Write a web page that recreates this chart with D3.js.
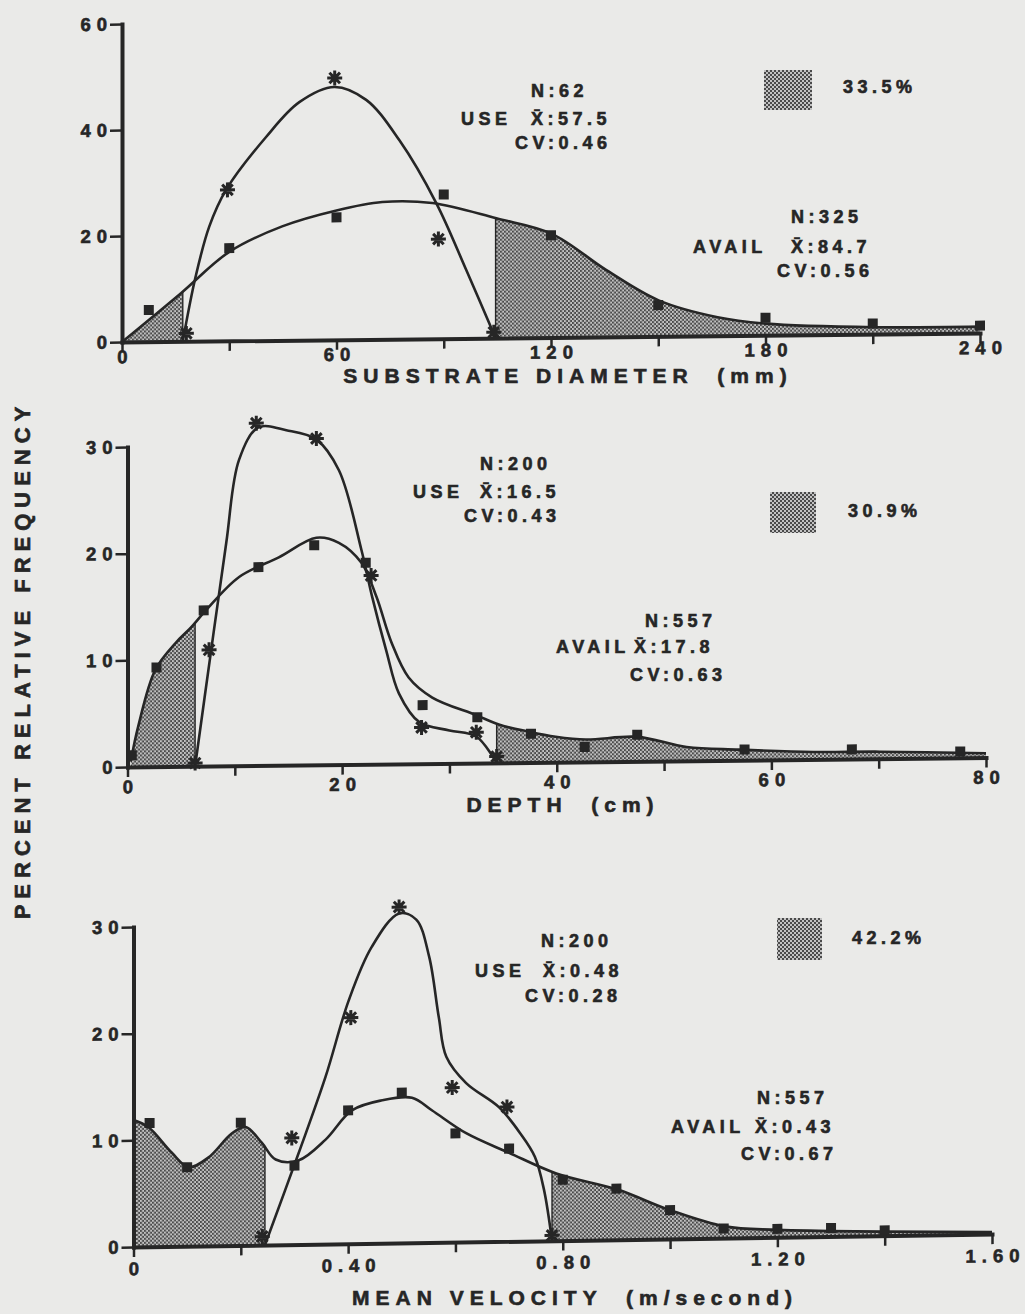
<!DOCTYPE html>
<html><head><meta charset="utf-8">
<script src="https://cdn.jsdelivr.net/npm/d3@7"></script>
<style>
html,body{margin:0;padding:0;background:#eaeae8;}
svg{display:block;}
text{font-family:"Liberation Sans",Arial,Helvetica,sans-serif;font-weight:bold;fill:#262626;stroke:#262626;stroke-width:0.6px;}
</style></head><body>
<svg id="c" width="1025" height="1314"></svg>
<script>
// ---------- Panel 1: SUBSTRATE DIAMETER (mm) ----------
const subXTicks = [0,30,60,90,120,150,180,210,240];
const subXLabels = [0,60,120,180,240];
const subYTicks = [0,20,40,60];
const subAvailPtsX = [7.5,30,60,90,120,150,180,210,240];
const subAvailPtsY = [6.0,17.5,23.1,27.2,19.3,5.9,3.3,2.0,1.4];
const subUsePtsX = [18,29.5,59.5,88.5,104];
const subUsePtsY = [1.5,28.5,49.4,18.8,1.1];
const subAvailCurveX = [0,16.5,30,44.8,60,72.8,86.8,104.7,120.1,135.5,150.1,166.6,180,210.6,240];
const subAvailCurveY = [0,9.1,16.8,21.5,24.4,25.9,25.6,22.6,19.6,12.6,6.8,3.5,2.2,1.3,1.2];
const subUseCurveX = [17,20.6,24.4,29.1,40.3,49.6,59.4,68.3,77.6,87.9,96.3,104.5];
const subUseCurveY = [0,12.2,21.6,28.5,38.4,44.9,47.7,45.2,37.5,25.6,12.9,0];
const subUseStats = ["N:62","X\u0304:57.5","CV:0.46"];
const subAvailStats = ["N:325","X\u0304:84.7","CV:0.56"];
const subPct = "33.5%";
const subTitle = "SUBSTRATE DIAMETER  (mm)";

// ---------- Panel 2: DEPTH (cm) ----------
const depXTicks = [0,10,20,30,40,50,60,70,80];
const depXLabels = [0,20,40,60,80];
const depYTicks = [0,10,20,30];
const depAvailPtsX = [0.4,2.7,7.1,12.2,17.4,22.2,27.5,32.6,37.6,42.6,47.5,57.5,67.5,77.6];
const depAvailPtsY = [1.1,9.3,14.6,18.6,20.6,18.9,5.5,4.3,2.7,1.4,2.5,1.0,0.9,0.6];
const depUsePtsX = [6.3,7.6,12.0,17.6,22.7,27.4,32.5,34.4];
const depUsePtsY = [0.3,10.9,32.1,30.6,17.7,3.4,2.9,0.6];
const depAvailCurveX = [0.3,1.0,2.6,4.5,5.9,7.3,10.4,14.1,17.6,19.7,21.8,23.2,24.6,26.2,28.4,32.5,34.6,37.4,39.9,42.7,47.5,52.1,57.0,63.9,70.1,80];
const depAvailCurveY = [0.5,3.8,9.1,11.6,13.0,14.6,17.7,19.5,21.3,20.8,18.9,15.7,11.4,8.1,6.2,4.5,3.6,2.9,2.4,2.1,2.3,1.3,1.0,0.7,0.66,0.4];
const depUseCurveX = [6.3,7.8,9.2,10.4,12.2,14.8,17.6,19.7,21.8,22.8,24.1,25.3,27.2,30.0,32.5,34.4];
const depUseCurveY = [0,10.9,20.9,28.7,31.7,31.4,30.5,27.6,20.1,15.7,10.7,6.6,3.9,3.1,2.5,0];
const depUseStats = ["N:200","X\u0304:16.5","CV:0.43"];
const depAvailStats = ["N:557","X\u0304:17.8","CV:0.63"];
const depPct = "30.9%";
const depTitle = "DEPTH  (cm)";

// ---------- Panel 3: MEAN VELOCITY (m/second) ----------
const velXTicks = [0,0.2,0.4,0.6,0.8,1.0,1.2,1.4,1.6];
const velXLabels = [0,0.4,0.8,1.2,1.6];
const velYTicks = [0,10,20,30];
const velAvailPtsX = [0.03,0.1,0.2,0.3,0.4,0.5,0.6,0.7,0.8,0.9,1.0,1.1,1.2,1.3,1.4];
const velAvailPtsY = [11.6,7.4,11.5,7.4,12.5,14.1,10.2,8.7,5.7,4.8,2.7,0.9,0.8,0.8,0.5];
const velUsePtsX = [0.24,0.295,0.405,0.495,0.594,0.696,0.78];
const velUsePtsY = [0.8,10.0,21.2,31.5,14.5,12.6,0.5];
const velAvailCurveX = [0,0.028,0.071,0.103,0.14,0.183,0.209,0.239,0.265,0.308,0.358,0.407,0.463,0.519,0.556,0.62,0.7,0.788,0.902,1.0,1.102,1.2,1.6];
const velAvailCurveY = [11.9,11.2,8.8,7.4,8.3,10.5,11.1,9.6,8.0,7.9,9.8,12.5,13.4,13.6,12.4,10.2,8.3,6.3,4.7,2.7,1.1,0.7,0.2];
const velUseCurveX = [0.245,0.308,0.358,0.401,0.444,0.495,0.527,0.551,0.569,0.583,0.62,0.681,0.721,0.748,0.765,0.78];
const velUseCurveY = [0,8.6,15.7,22.8,27.8,30.9,30.3,26.8,21.1,17.4,14.9,12.6,10.1,7.9,4.8,0];
const velUseStats = ["N:200","X\u0304:0.48","CV:0.28"];
const velAvailStats = ["N:557","X\u0304:0.43","CV:0.67"];
const velPct = "42.2%";
const velTitle = "MEAN VELOCITY  (m/second)";

const yTitle = "PERCENT RELATIVE FREQUENCY";

// ---------- drawing ----------
const INK = "#262626";
const svg = d3.select("#c");
svg.append("rect").attr("width",1025).attr("height",1314).attr("fill","#eaeae8");
const defs = svg.append("defs");
const pat = defs.append("pattern").attr("id","stip").attr("patternUnits","userSpaceOnUse").attr("width",4).attr("height",4);
pat.append("rect").attr("width",4).attr("height",4).attr("fill","#c2c2c2");
pat.append("rect").attr("width",2).attr("height",2).attr("fill","#4a4a4a");
pat.append("rect").attr("x",2).attr("y",2).attr("width",2).attr("height",2).attr("fill","#4a4a4a");

const zip = (xs, ys) => xs.map((v,i)=>[v, ys[i]]);

function yAtX(node, px){
  const L = node.getTotalLength();
  let lo = 0, hi = L;
  for(let i=0;i<40;i++){ const m=(lo+hi)/2; if(node.getPointAtLength(m).x < px) lo=m; else hi=m; }
  return node.getPointAtLength((lo+hi)/2).y;
}

function txt(s, x, y, size, ls, anchor){
  return svg.append("text").attr("x",x).attr("y",y).attr("font-size",size)
    .attr("letter-spacing",ls).attr("text-anchor",anchor||"start").style("white-space","pre").text(s);
}

function panel(o){
  const g = svg.append("g").attr("transform",`matrix(1,${-o.k},0,1,0,0)`);
  const x = d3.scaleLinear().domain([o.xTicks[0], o.xTicks[o.xTicks.length-1]]).range(o.xRange);
  const y = d3.scaleLinear().domain([0, o.yTicks[o.yTicks.length-1]]).range(o.yRange);
  const avail = zip(o.availCX, o.availCY);
  const use = zip(o.useCX, o.useCY);
  const cv = d3.curveCatmullRom.alpha(0.5);
  const line = d3.line().x(d=>x(d[0])).y(d=>y(d[1])).curve(cv);
  const area = d3.area().x(d=>x(d[0])).y0(y(0)).y1(d=>y(d[1])).curve(cv);

  const u0 = o.useCX[0], u1 = o.useCX[o.useCX.length-1];
  const x0 = x.domain()[0], x1 = x.domain()[1];
  [[x0,u0],[u1,x1]].forEach((iv,i)=>{
    const id = o.id + "clip" + i;
    defs.append("clipPath").attr("id",id).append("rect")
      .attr("x",x(iv[0])).attr("y",y.range()[1]-40)
      .attr("width",x(iv[1])-x(iv[0])).attr("height",y(0)-y.range()[1]+40);
    g.append("path").attr("d",area(avail)).attr("fill","url(#stip)").attr("clip-path",`url(#${id})`);
  });

  const ap = g.append("path").attr("d",line(avail)).attr("fill","none").attr("stroke",INK).attr("stroke-width",2.6);
  g.append("path").attr("d",line(use)).attr("fill","none").attr("stroke",INK).attr("stroke-width",2.6);
  [u0,u1].forEach(v=>{
    g.append("line").attr("x1",x(v)).attr("x2",x(v)).attr("y1",y(0)).attr("y2",yAtX(ap.node(), x(v)))
      .attr("stroke",INK).attr("stroke-width",1.4);
  });

  // markers
  g.selectAll(null).data(zip(o.availPX,o.availPY)).join("rect")
    .attr("x",d=>x(d[0])-5).attr("y",d=>y(d[1])-5).attr("width",10).attr("height",10).attr("fill",INK);
  const star = "M-7.5,0H7.5M0,-7.5V7.5M-5.3,-5.3L5.3,5.3M-5.3,5.3L5.3,-5.3";
  g.selectAll(null).data(zip(o.usePX,o.usePY)).join("path")
    .attr("transform",d=>`translate(${x(d[0])},${y(d[1])})`).attr("d",star)
    .attr("stroke",INK).attr("stroke-width",3).attr("fill","none");

  // axes
  const xa = g.append("g").attr("transform",`translate(0,${y(0)})`)
    .call(d3.axisBottom(x).tickValues(o.xTicks).tickSize(10).tickSizeOuter(0).tickPadding(o.xPad)
      .tickFormat(d => o.xLabels.includes(d) ? o.fmt(d) : ""));
  const ya = g.append("g").attr("transform",`translate(${x(x0)},0)`)
    .call(d3.axisLeft(y).tickValues(o.yTicks).tickSize(12).tickSizeOuter(0).tickFormat(d3.format("d")));
  [xa,ya].forEach(a=>{
    a.select(".domain").attr("stroke",INK).attr("stroke-width",4).attr("stroke-linecap","square");
    a.selectAll(".tick line").attr("stroke",INK).attr("stroke-width",2.5);
    a.selectAll(".tick text").attr("fill",INK).attr("font-size",18.5).attr("letter-spacing",o.tls)
      .attr("font-family",null);
  });
  xa.selectAll(".tick text").attr("dx",o.tls/2);
  ya.selectAll(".tick text").attr("x",-15 + o.tls);

  // stats text
  const S = o.stats;
  txt(o.useStats[0], S.useX[0], S.useY[0], 18, 4.5);
  txt("USE", S.useLab[0], S.useY[1], 18, 4.5);
  txt(o.useStats[1], S.useX[1], S.useY[1], 18, 4.5);
  txt(o.useStats[2], S.useX[2], S.useY[2], 18, 4.5);
  txt(o.availStats[0], S.avX[0], S.avY[0], 18, 4.5);
  txt("AVAIL", S.avLab[0], S.avY[1], 18, 4.5);
  txt(o.availStats[1], S.avX[1], S.avY[1], 18, 4.5);
  txt(o.availStats[2], S.avX[2], S.avY[2], 18, 4.5);
  svg.append("rect").attr("x",S.leg[0]).attr("y",S.leg[1]).attr("width",S.leg[2]).attr("height",S.leg[3]).attr("fill","url(#stip)");
  txt(o.pct, S.pct[0], S.pct[1], 18, 4.5);
  txt(o.title, S.title[0]+3, S.title[1], 21, 6, "middle");
}

panel({id:"sub", k:0.0105, xRange:[122,980], yRange:[343.3,25.3], tls:6,
  xTicks:subXTicks, xLabels:subXLabels, yTicks:subYTicks, xPad:-2, fmt:d3.format("d"),
  availPX:subAvailPtsX, availPY:subAvailPtsY, usePX:subUsePtsX, usePY:subUsePtsY,
  availCX:subAvailCurveX, availCY:subAvailCurveY, useCX:subUseCurveX, useCY:subUseCurveY,
  useStats:subUseStats, availStats:subAvailStats, pct:subPct, title:subTitle,
  stats:{useX:[531,531,515], useY:[97,125,149], useLab:[461],
         avX:[791,791,777], avY:[223,253,277], avLab:[693],
         leg:[764,70,48,40], pct:[843,93], title:[565,383]}});

panel({id:"dep", k:0.011, xRange:[127.5,986], yRange:[768.4,448.4], tls:6,
  xTicks:depXTicks, xLabels:depXLabels, yTicks:depYTicks, xPad:3, fmt:d3.format("d"),
  availPX:depAvailPtsX, availPY:depAvailPtsY, usePX:depUsePtsX, usePY:depUsePtsY,
  availCX:depAvailCurveX, availCY:depAvailCurveY, useCX:depUseCurveX, useCY:depUseCurveY,
  useStats:depUseStats, availStats:depAvailStats, pct:depPct, title:depTitle,
  stats:{useX:[480,480,464], useY:[470,498,522], useLab:[413],
         avX:[645,634,630], avY:[627,653,681], avLab:[556],
         leg:[770,492,46,41], pct:[848,517], title:[560,812]}});

panel({id:"vel", k:0.015, xRange:[133.5,992], yRange:[1249,929], tls:6,
  xTicks:velXTicks, xLabels:velXLabels, yTicks:velYTicks, xPad:5, fmt:d=> d===0 ? "0" : d3.format(".2f")(d),
  availPX:velAvailPtsX, availPY:velAvailPtsY, usePX:velUsePtsX, usePY:velUsePtsY,
  availCX:velAvailCurveX, availCY:velAvailCurveY, useCX:velUseCurveX, useCY:velUseCurveY,
  useStats:velUseStats, availStats:velAvailStats, pct:velPct, title:velTitle,
  stats:{useX:[541,543,525], useY:[947,977,1002], useLab:[475],
         avX:[757,755,741], avY:[1104,1133,1160], avLab:[671],
         leg:[777,918,45,42], pct:[852,944], title:[572,1305]}});

svg.append("text").attr("transform","translate(22.5,663) rotate(-90)")
  .attr("text-anchor","middle").attr("dominant-baseline","central")
  .attr("font-size",22).attr("letter-spacing",6).attr("dx",3).text(yTitle);
</script>
</body></html>
